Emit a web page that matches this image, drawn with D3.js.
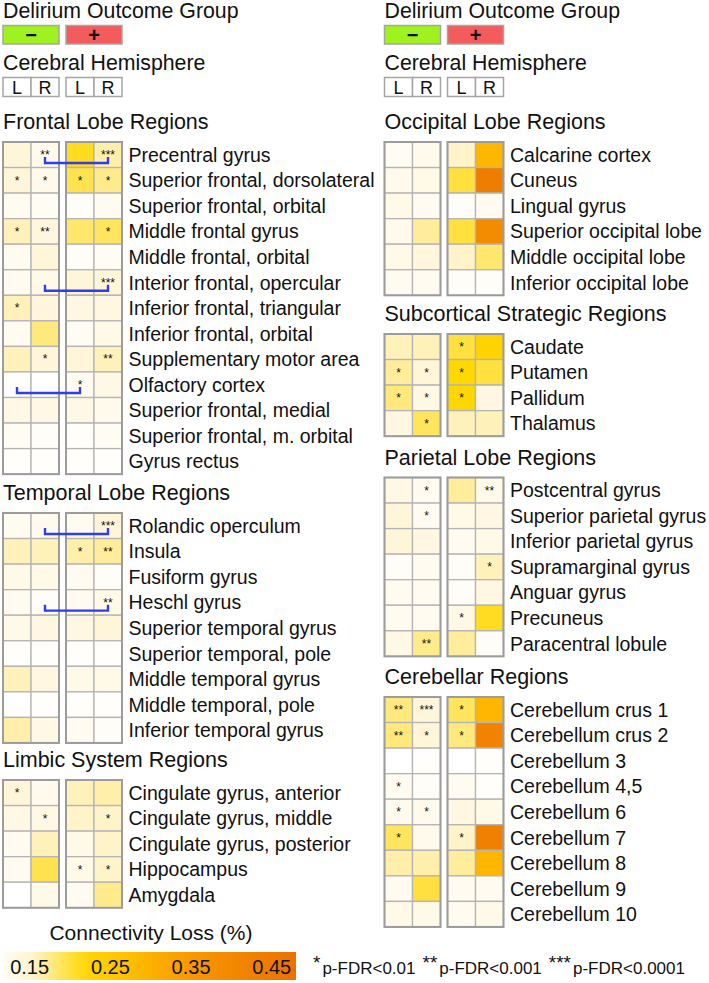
<!DOCTYPE html>
<html>
<head>
<meta charset="utf-8">
<script src="https://cdn.jsdelivr.net/npm/d3@7"></script>
<style>
	body { margin: 0; background: #fff; }
	text { font-family: "Liberation Sans", Arial, Helvetica, sans-serif; fill: #111; }
</style>
</head>
<body>
<div id="chart"></div>
<script>

// columns of every matrix: [L-, R-, L+, R+]  (delirium -, delirium +)
var frontalRegions = ["Precentral gyrus", "Superior frontal, dorsolateral", "Superior frontal, orbital",
	"Middle frontal gyrus", "Middle frontal, orbital", "Interior frontal, opercular",
	"Inferior frontal, triangular", "Inferior frontal, orbital", "Supplementary motor area",
	"Olfactory cortex", "Superior frontal, medial", "Superior frontal, m. orbital", "Gyrus rectus"];
var frontalLoss = [
	[0.15, 0.125, 0.21, 0.165], [0.15, 0.125, 0.195, 0.175], [0.12, 0.115, 0.11, 0.12],
	[0.16, 0.145, 0.185, 0.19], [0.12, 0.15, 0.11, 0.115], [0.12, 0.13, 0.15, 0.15],
	[0.16, 0.145, 0.14, 0.14], [0.12, 0.18, 0.115, 0.13], [0.16, 0.15, 0.15, 0.16],
	[0.105, 0.10, 0.12, 0.135], [0.135, 0.135, 0.135, 0.125], [0.115, 0.11, 0.105, 0.115],
	[0.105, 0.105, 0.105, 0.105]];
var frontalStars = [[0,2,0,3],[1,1,1,1],[0,0,0,0],[1,2,0,1],[0,0,0,0],[0,0,0,3],[1,0,0,0],
	[0,0,0,0],[0,1,0,2],[0,0,1,0],[0,0,0,0],[0,0,0,0],[0,0,0,0]];

var temporalRegions = ["Rolandic operculum", "Insula", "Fusiform gyrus", "Heschl gyrus",
	"Superior temporal gyrus", "Superior temporal, pole", "Middle temporal gyrus",
	"Middle temporal, pole", "Inferior temporal gyrus"];
var temporalLoss = [
	[0.12, 0.125, 0.12, 0.15], [0.16, 0.16, 0.165, 0.17], [0.13, 0.13, 0.12, 0.11],
	[0.12, 0.11, 0.12, 0.13], [0.13, 0.14, 0.14, 0.15], [0.105, 0.105, 0.105, 0.105],
	[0.16, 0.14, 0.13, 0.13], [0.10, 0.105, 0.105, 0.105], [0.165, 0.135, 0.12, 0.11]];
var temporalStars = [[0,0,0,3],[0,0,1,2],[0,0,0,0],[0,0,0,2],[0,0,0,0],[0,0,0,0],
	[0,0,0,0],[0,0,0,0],[0,0,0,0]];

var limbicRegions = ["Cingulate gyrus, anterior", "Cingulate gyrus, middle",
	"Cingulate gyrus, posterior", "Hippocampus", "Amygdala"];
var limbicLoss = [
	[0.15, 0.125, 0.16, 0.165], [0.135, 0.135, 0.155, 0.155], [0.12, 0.16, 0.13, 0.155],
	[0.12, 0.195, 0.13, 0.155], [0.10, 0.13, 0.12, 0.175]];
var limbicStars = [[1,0,0,0],[0,1,0,1],[0,0,0,0],[0,0,1,1],[0,0,0,0]];

var occipitalRegions = ["Calcarine cortex", "Cuneus", "Lingual gyrus", "Superior occipital lobe",
	"Middle occipital lobe", "Inferior occipital lobe"];
var occipitalLoss = [
	[0.115, 0.125, 0.155, 0.29], [0.125, 0.13, 0.20, 0.44], [0.13, 0.12, 0.11, 0.12],
	[0.125, 0.17, 0.20, 0.39], [0.13, 0.145, 0.155, 0.185], [0.12, 0.12, 0.11, 0.11]];
var occipitalStars = [[0,0,0,0],[0,0,0,0],[0,0,0,0],[0,0,0,0],[0,0,0,0],[0,0,0,0]];

var subcorticalRegions = ["Caudate", "Putamen", "Pallidum", "Thalamus"];
var subcorticalLoss = [
	[0.16, 0.16, 0.20, 0.23], [0.17, 0.15, 0.22, 0.20], [0.18, 0.135, 0.225, 0.14],
	[0.14, 0.19, 0.16, 0.16]];
var subcorticalStars = [[0,0,1,0],[1,1,1,0],[1,1,1,0],[0,1,0,0]];

var parietalRegions = ["Postcentral gyrus", "Superior parietal gyrus", "Inferior parietal gyrus",
	"Supramarginal gyrus", "Anguar gyrus", "Precuneus", "Paracentral lobule"];
var parietalLoss = [
	[0.135, 0.12, 0.17, 0.13], [0.15, 0.12, 0.13, 0.14], [0.15, 0.14, 0.12, 0.13],
	[0.11, 0.12, 0.11, 0.16], [0.12, 0.12, 0.11, 0.14], [0.12, 0.12, 0.135, 0.21],
	[0.135, 0.175, 0.17, 0.11]];
var parietalStars = [[0,1,0,2],[0,1,0,0],[0,0,0,0],[0,0,0,1],[0,0,0,0],[0,0,1,0],[0,2,0,0]];

var cerebellarRegions = ["Cerebellum crus 1", "Cerebellum crus 2", "Cerebellum 3", "Cerebellum 4,5",
	"Cerebellum 6", "Cerebellum 7", "Cerebellum 8", "Cerebellum 9", "Cerebellum 10"];
var cerebellarLoss = [
	[0.18, 0.15, 0.19, 0.29], [0.18, 0.15, 0.18, 0.42], [0.10, 0.105, 0.10, 0.105],
	[0.12, 0.11, 0.12, 0.105], [0.125, 0.125, 0.14, 0.13], [0.19, 0.125, 0.155, 0.43],
	[0.165, 0.165, 0.17, 0.29], [0.12, 0.20, 0.12, 0.12], [0.13, 0.13, 0.12, 0.13]];
var cerebellarStars = [[2,3,1,0],[2,1,1,0],[0,0,0,0],[1,0,0,0],[1,1,0,0],[1,0,1,0],
	[0,0,0,0],[0,0,0,0],[0,0,0,0]];

// bracketed comparisons: [row, from column, to column]
var frontalBrackets = [[0, 1, 3], [5, 1, 3], [9, 0, 2]];
var temporalBrackets = [[0, 1, 3], [3, 1, 3]];

var colorTicks = [0.15, 0.25, 0.35, 0.45];
var sigLegend = [["*", "p-FDR<0.01"], ["**", "p-FDR<0.001"], ["***", "p-FDR<0.0001"]];

var W = 709, H = 983,
	cellW = 28, rowH = 25.55, groupGap = 63,
	leftX = 3, rightX = 384.5;

var svg = d3.select("#chart").append("svg")
	.attr("width", W)
	.attr("height", H);

var color = d3.scaleLinear()
	.domain([0.10, 0.15, 0.22, 0.28, 0.35, 0.45, 0.48])
	.range(["#ffffff", "#fff5d9", "#ffd800", "#ffbb00", "#f89800", "#ee7a00", "#ec7000"])
	.clamp(true);

var colX = d3.scaleOrdinal().domain([0, 1, 2, 3])
	.range([0, cellW, groupGap, groupGap + cellW]);

// --- top legends (both columns) ---
[leftX, rightX].forEach(function(x0) {

	svg.append("text").attr("x", x0).attr("y", 17.5)
		.style("font-size", "21.3px").text("Delirium Outcome Group");

	[["#a0f21e", "\u2212"], ["#f45b5d", "+"]].forEach(function(d, k) {
		svg.append("rect")
			.attr("x", x0 + groupGap * k).attr("y", 25.5)
			.attr("width", cellW * 2).attr("height", 18.5)
			.style("fill", d[0]).style("stroke", "#a5a5a5").style("stroke-width", 1.5);
		svg.append("text")
			.attr("x", x0 + groupGap * k + cellW).attr("y", 42)
			.attr("text-anchor", "middle")
			.style("font-size", "20px").style("font-weight", "bold")
			.text(d[1]);
	});

	svg.append("text").attr("x", x0).attr("y", 70)
		.style("font-size", "21.3px").text("Cerebral Hemisphere");

	[0, 1, 2, 3].forEach(function(c) {
		svg.append("rect")
			.attr("x", colX(c)).attr("y", 77.5)
			.attr("transform", "translate(" + x0 + ",0)")
			.attr("width", cellW).attr("height", 19)
			.style("fill", "#fff").style("stroke", "#a5a5a5").style("stroke-width", 1.5);
		svg.append("text")
			.attr("x", x0 + colX(c) + cellW / 2).attr("y", 94.3)
			.attr("text-anchor", "middle")
			.style("font-size", "18px")
			.text(c % 2 ? "R" : "L");
	});
});

// --- region matrices ---
function drawSection(x0, top, title, regions, loss, stars, brackets) {

	var n = regions.length;
	var y = d3.scaleBand().domain(d3.range(n)).range([0, n * rowH]);

	svg.append("text").attr("x", x0).attr("y", top - 13)
		.style("font-size", "21.5px").text(title);

	var g = svg.append("g").attr("transform", "translate(" + x0 + "," + top + ")");

	var cells = [];
	loss.forEach(function(row, i) {
		row.forEach(function(v, c) {
			cells.push({ i: i, c: c, v: v, s: stars[i][c] });
		});
	});

	g.selectAll("rect.cell").data(cells).enter().append("rect")
		.attr("class", "cell")
		.attr("x", function(d) { return colX(d.c); })
		.attr("y", function(d) { return y(d.i); })
		.attr("width", cellW)
		.attr("height", y.bandwidth())
		.style("fill", function(d) { return color(d.v); })
		.style("stroke", "#b4b4b4")
		.style("stroke-width", 1.3);

	[0, 1].forEach(function(k) {
		g.append("rect")
			.attr("x", groupGap * k).attr("y", 0)
			.attr("width", cellW * 2).attr("height", n * rowH)
			.style("fill", "none").style("stroke", "#9c9c9c").style("stroke-width", 2);
	});

	g.selectAll("text.star").data(cells.filter(function(d) { return d.s > 0; }))
		.enter().append("text")
		.attr("class", "star")
		.attr("x", function(d) { return colX(d.c) + cellW / 2; })
		.attr("y", function(d) { return y(d.i) + 17; })
		.attr("text-anchor", "middle")
		.style("font-size", "12px")
		.text(function(d) { return "***".slice(0, d.s); });

	(brackets || []).forEach(function(b) {
		var xa = colX(b[1]) + cellW / 2, xb = colX(b[2]) + cellW / 2,
			yb = y(b[0]) + 21, ya = y(b[0]) + 15;
		g.append("path")
			.attr("d", "M" + xa + "," + ya + "V" + yb + "H" + xb + "V" + ya)
			.style("fill", "none").style("stroke", "#2f3cf2").style("stroke-width", 2.4);
	});

	g.selectAll("text.region").data(regions).enter().append("text")
		.attr("class", "region")
		.attr("x", 125.5)
		.attr("y", function(d, i) { return y(i) + rowH / 2 + 7; })
		.style("font-size", "19.5px")
		.text(function(d) { return d; });
}

drawSection(leftX, 142, "Frontal Lobe Regions", frontalRegions, frontalLoss, frontalStars, frontalBrackets);
drawSection(leftX, 513, "Temporal Lobe Regions", temporalRegions, temporalLoss, temporalStars, temporalBrackets);
drawSection(leftX, 780, "Limbic System Regions", limbicRegions, limbicLoss, limbicStars);

drawSection(rightX, 142, "Occipital Lobe Regions", occipitalRegions, occipitalLoss, occipitalStars);
drawSection(rightX, 334, "Subcortical Strategic Regions", subcorticalRegions, subcorticalLoss, subcorticalStars);
drawSection(rightX, 477.5, "Parietal Lobe Regions", parietalRegions, parietalLoss, parietalStars);
drawSection(rightX, 697, "Cerebellar Regions", cerebellarRegions, cerebellarLoss, cerebellarStars);

// --- colour bar ---
var cbX = d3.scaleLinear().domain([0.117, 0.48]).range([3, 296]);

var grad = svg.append("defs").append("linearGradient")
	.attr("id", "cbar").attr("x1", "0%").attr("x2", "100%");
d3.range(0, 1.0001, 0.05).forEach(function(t) {
	grad.append("stop")
		.attr("offset", (t * 100) + "%")
		.attr("stop-color", color(cbX.invert(3 + t * 293)));
});

svg.append("rect")
	.attr("x", cbX.range()[0]).attr("y", 952)
	.attr("width", cbX.range()[1] - cbX.range()[0]).attr("height", 28)
	.style("fill", "url(#cbar)");

svg.append("text").attr("x", 151).attr("y", 940)
	.attr("text-anchor", "middle")
	.style("font-size", "21px").text("Connectivity Loss (%)");

svg.selectAll("text.cbtick").data(colorTicks).enter().append("text")
	.attr("class", "cbtick")
	.attr("x", function(d) { return cbX(d); })
	.attr("y", 973.5)
	.attr("text-anchor", "middle")
	.style("font-size", "20px")
	.text(function(d) { return d.toFixed(2); });

// significance key
var kx = 313;
sigLegend.forEach(function(d) {
	var t = svg.append("text").attr("x", kx).attr("y", 973.5).style("font-size", "17px");
	t.append("tspan").style("font-size", "19px").attr("dy", -5).text(d[0]);
	t.append("tspan").attr("dx", 2).attr("dy", 5).text(d[1]);
	kx += t.node().getComputedTextLength() + 9;
});

</script>
</body>
</html>
